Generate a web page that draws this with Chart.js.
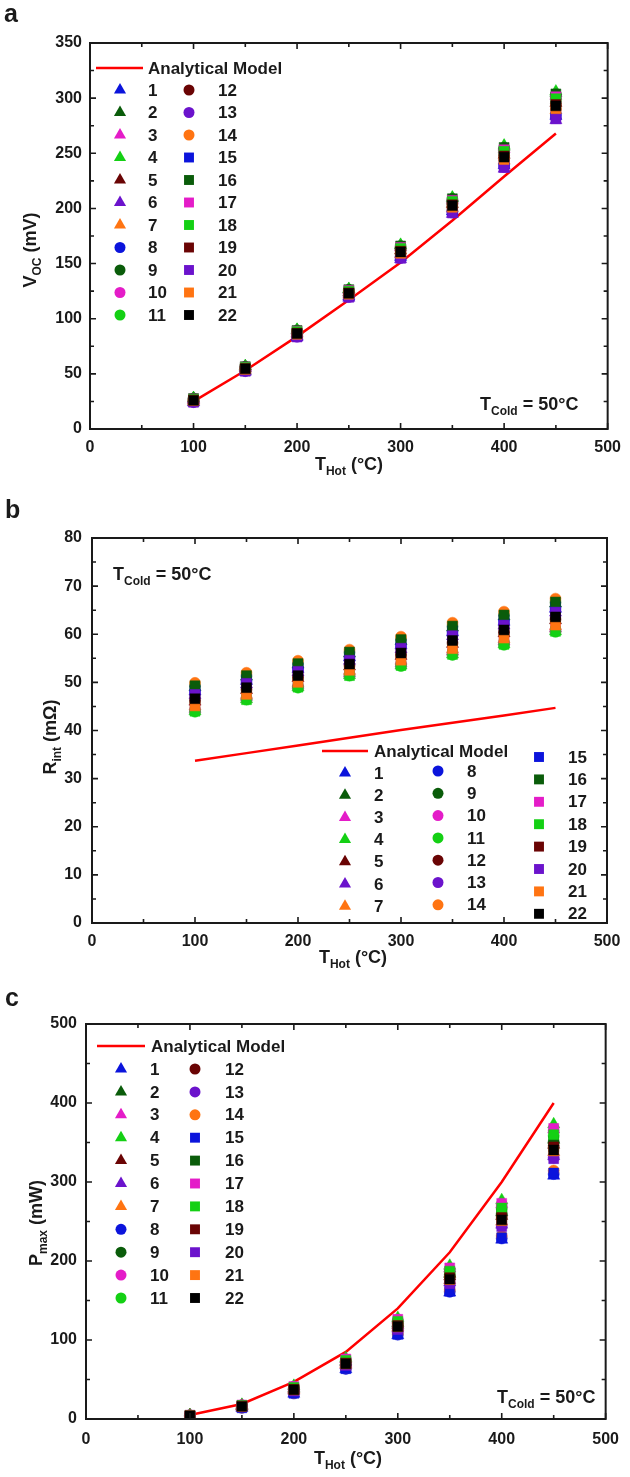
<!DOCTYPE html>
<html>
<head>
<meta charset="utf-8">
<script src="https://cdn.jsdelivr.net/npm/chart.js@4.4.0/dist/chart.umd.min.js"></script>
<style>
  body { margin: 0; background: #fff; }
  .wrap { position: relative; width: 630px; height: 1477px; }
  canvas { position: absolute; left: 0; }
</style>
</head>
<body>
<div class="wrap">
  <canvas id="chartA" width="630" height="480" style="top:0"></canvas>
  <canvas id="chartB" width="630" height="500" style="top:480px"></canvas>
  <canvas id="chartC" width="630" height="497" style="top:980px"></canvas>
</div>
<script>
// x values, T_hot in degC
const tHot = [100, 150, 200, 250, 300, 350, 400, 450];
const seriesNames = ['1','2','3','4','5','6','7','8','9','10','11','12','13','14','15','16','17','18','19','20','21','22'];
const seriesColors = [
    '#0b14dc','#0a5c0a','#e41cc8','#14d014','#6a0404','#6b13cc','#ff7412',
    '#0b14dc','#0a5c0a','#e41cc8','#14d014','#6a0404','#6b13cc','#ff7412',
    '#0b14dc','#0a5c0a','#e41cc8','#14d014','#6a0404','#6b13cc','#ff7412','#000000'
];
const seriesShapes = [
    'triangle','triangle','triangle','triangle','triangle','triangle','triangle',
    'circle','circle','circle','circle','circle','circle','circle',
    'rect','rect','rect','rect','rect','rect','rect','rect'
];

// panel a - open circuit voltage (mV)
const vocModel = [25, 53, 84, 117, 151, 189, 229, 268];
const vocPoints = [
    [24.6, 52.8, 84.1, 120.2, 156.0, 197.3, 239.2, 283.9],
    [27.8, 56.8, 89.7, 126.6, 166.4, 209.3, 256.0, 304.7],
    [27.4, 56.3, 89.0, 125.8, 165.1, 207.8, 253.9, 302.1],
    [28.0, 57.0, 90.0, 127.0, 167.0, 210.0, 257.0, 306.0],
    [26.4, 55.0, 87.2, 123.8, 161.8, 204.0, 248.6, 295.6],
    [24.0, 52.0, 83.0, 119.0, 154.0, 195.0, 236.0, 280.0],
    [25.4, 53.8, 85.5, 121.8, 158.6, 200.3, 243.4, 289.1],
    [24.7, 52.9, 84.3, 120.4, 156.3, 197.7, 239.8, 284.7],
    [27.6, 56.5, 89.3, 126.2, 165.7, 208.5, 254.9, 303.4],
    [27.2, 56.0, 88.6, 125.4, 164.4, 207.0, 252.8, 300.8],
    [26.9, 55.6, 88.0, 124.8, 163.4, 205.8, 251.1, 298.7],
    [26.3, 54.9, 87.1, 123.6, 161.5, 203.7, 248.2, 295.1],
    [24.3, 52.4, 83.6, 119.6, 155.0, 196.2, 237.7, 282.1],
    [25.5, 53.9, 85.7, 122.0, 158.9, 200.7, 244.0, 289.9],
    [24.8, 53.0, 84.4, 120.6, 156.6, 198.0, 240.2, 285.2],
    [27.7, 56.6, 89.4, 126.4, 166.0, 208.8, 255.3, 303.9],
    [27.3, 56.1, 88.7, 125.6, 164.7, 207.3, 253.2, 301.3],
    [27.0, 55.8, 88.3, 125.0, 163.8, 206.3, 251.8, 299.5],
    [26.2, 54.8, 86.9, 123.4, 161.2, 203.3, 247.6, 294.3],
    [24.2, 52.3, 83.4, 119.4, 154.7, 195.8, 237.1, 281.3],
    [25.6, 54.0, 85.8, 122.2, 159.2, 201.0, 244.4, 290.4],
    [26.0, 54.5, 86.5, 123.0, 160.5, 202.5, 246.5, 293.0]
];

// panel b - internal resistance (mOhm)
const rintModel = [33.7, 35.3, 36.9, 38.5, 40.1, 41.6, 43.1, 44.7];
const rintPoints = [
    [48.1, 50.3, 52.8, 55.2, 57.7, 60.4, 62.6, 65.3],
    [49.0, 51.2, 53.7, 56.0, 58.6, 61.4, 63.7, 66.4],
    [44.5, 47.0, 49.5, 51.9, 54.0, 56.4, 58.5, 61.2],
    [44.0, 46.5, 49.0, 51.5, 53.5, 55.8, 57.9, 60.6],
    [46.0, 48.4, 50.9, 53.3, 55.5, 58.0, 60.2, 62.9],
    [47.4, 49.6, 52.1, 54.5, 56.9, 59.6, 61.8, 64.5],
    [45.0, 47.4, 49.9, 52.4, 54.5, 56.9, 59.0, 61.7],
    [48.2, 50.4, 52.9, 55.3, 57.8, 60.5, 62.8, 65.5],
    [49.2, 51.3, 53.8, 56.2, 58.8, 61.6, 63.9, 66.6],
    [44.3, 46.7, 49.2, 51.7, 53.8, 56.1, 58.2, 60.9],
    [43.9, 46.4, 48.9, 51.4, 53.4, 55.7, 57.8, 60.5],
    [46.2, 48.5, 51.0, 53.5, 55.7, 58.2, 60.4, 63.1],
    [47.6, 49.9, 52.4, 54.7, 57.2, 59.9, 62.1, 64.8],
    [49.9, 52.0, 54.5, 56.8, 59.5, 62.4, 64.7, 67.4],
    [48.4, 50.6, 53.1, 55.5, 58.0, 60.7, 63.0, 65.7],
    [49.3, 51.4, 53.9, 56.3, 58.9, 61.7, 64.0, 66.7],
    [44.4, 46.8, 49.3, 51.8, 53.9, 56.2, 58.4, 61.1],
    [44.0, 46.4, 49.0, 51.4, 53.5, 55.8, 57.9, 60.6],
    [46.3, 48.6, 51.1, 53.6, 55.8, 58.4, 60.6, 63.3],
    [47.5, 49.8, 52.3, 54.6, 57.1, 59.7, 61.9, 64.6],
    [45.1, 47.5, 50.0, 52.5, 54.6, 57.0, 59.2, 61.9],
    [46.6, 48.9, 51.4, 53.8, 56.1, 58.7, 60.9, 63.6]
];

// panel c - max power (mW)
const pmaxModel = [5, 19, 47, 85, 140, 211, 300, 400];
const pmaxPoints = [
    [3.0, 14.0, 32.0, 63.0, 106.0, 160.0, 227.0, 308.0],
    [4.4, 16.8, 39.0, 72.8, 121.4, 183.8, 262.0, 353.5],
    [4.8, 17.6, 41.0, 75.6, 125.8, 190.6, 272.0, 366.5],
    [5.0, 18.0, 42.0, 77.0, 128.0, 194.0, 277.0, 373.0],
    [4.2, 16.4, 38.0, 71.4, 119.2, 180.4, 257.0, 347.0],
    [3.8, 15.5, 35.8, 68.3, 114.4, 172.9, 246.0, 332.7],
    [3.9, 15.8, 36.6, 69.4, 116.1, 175.6, 250.0, 337.9],
    [3.1, 14.1, 32.3, 63.4, 106.7, 161.0, 228.5, 310.0],
    [4.3, 16.6, 38.6, 72.2, 120.5, 182.4, 260.0, 350.9],
    [4.8, 17.5, 40.8, 75.3, 125.4, 189.9, 271.0, 365.2],
    [4.6, 17.1, 39.8, 73.9, 123.2, 186.5, 266.0, 358.7],
    [4.2, 16.3, 37.8, 71.1, 118.8, 179.7, 256.0, 345.7],
    [3.7, 15.4, 35.5, 67.9, 113.7, 171.9, 244.5, 330.8],
    [3.2, 14.4, 33.0, 64.4, 108.2, 163.4, 232.0, 314.5],
    [3.1, 14.2, 32.5, 63.7, 107.1, 161.7, 229.5, 311.3],
    [4.4, 16.7, 38.8, 72.5, 121.0, 183.1, 261.0, 352.2],
    [4.8, 17.7, 41.2, 75.9, 126.2, 191.3, 273.0, 367.8],
    [4.6, 17.2, 40.0, 74.2, 123.6, 187.2, 267.0, 360.0],
    [4.1, 16.2, 37.6, 70.8, 118.3, 179.0, 255.0, 344.4],
    [3.7, 15.3, 35.3, 67.6, 113.3, 171.2, 243.5, 329.5],
    [4.0, 15.9, 36.8, 69.7, 116.6, 176.3, 251.0, 339.2],
    [4.0, 16.0, 37.0, 70.0, 117.0, 177.0, 252.0, 340.5]
];

const FONT = '"Liberation Sans", Arial, sans-serif';
const INK = '#1a1a1a';

const panels = [
    {
        canvas: 'chartA', letter: 'a', letterPos: [4, 22],
        yMax: 350, yStep: 50, model: vocModel, points: vocPoints,
        area: { left: 90, right: 609, top: 43, bottom: 429 },
        yPad: 8, xPad: 9,
        yTitle: ['V', 'OC', ' (mV)'], yTitlePos: [30, 250],
        xTitlePos: [349, 470],
        note: [480, 410],
        legend: {
            line: [96, 143, 68], text: 148,
            cols: [
                { mx: 120, tx: 148, y0: 90, dy: 22.5, from: 0, to: 10 },
                { mx: 189, tx: 218, y0: 90, dy: 22.5, from: 11, to: 21 }
            ]
        }
    },
    {
        canvas: 'chartB', letter: 'b', letterPos: [5, 38],
        yMax: 80, yStep: 10, model: rintModel, points: rintPoints,
        area: { left: 92, right: 607, top: 58, bottom: 443 },
        yPad: 10, xPad: 9,
        yTitle: ['R', 'int', ' (m\u03a9)'], yTitlePos: [50, 257],
        xTitlePos: [353, 483],
        note: [113, 100],
        legend: {
            line: [322, 368, 271], text: 374,
            cols: [
                { mx: 345, tx: 374, y0: 293, dy: 22.2, from: 0, to: 6 },
                { mx: 438, tx: 467, y0: 291, dy: 22.3, from: 7, to: 13 },
                { mx: 539, tx: 568, y0: 277, dy: 22.4, from: 14, to: 21 }
            ]
        }
    },
    {
        canvas: 'chartC', letter: 'c', letterPos: [5, 26],
        yMax: 500, yStep: 100, model: pmaxModel, points: pmaxPoints,
        area: { left: 86, right: 615, top: 44, bottom: 439 },
        yPad: 9, xPad: 11,
        yTitle: ['P', 'max', ' (mW)'], yTitlePos: [36, 243],
        xTitlePos: [348, 484],
        note: [497, 423],
        legend: {
            line: [97, 145, 66], text: 151,
            cols: [
                { mx: 121, tx: 150, y0: 89, dy: 22.9, from: 0, to: 10 },
                { mx: 195, tx: 225, y0: 89, dy: 22.9, from: 11, to: 21 }
            ]
        }
    }
];

const markerSize = { triangle: 7, circle: 5.5, rect: 7 };

function drawMarker(ctx, shape, x, y, color) {
    const r = markerSize[shape];
    ctx.fillStyle = color;
    ctx.beginPath();
    if (shape === 'circle') {
        ctx.arc(x, y, r, 0, Math.PI * 2);
    } else if (shape === 'triangle') {
        ctx.moveTo(x, y - r);
        ctx.lineTo(x + 0.866 * r, y + 0.5 * r);
        ctx.lineTo(x - 0.866 * r, y + 0.5 * r);
        ctx.closePath();
    } else {
        const h = r * Math.SQRT1_2;
        ctx.rect(x - h, y - h, 2 * h, 2 * h);
    }
    ctx.fill();
}

// text with subscript: [main, sub, rest]
function richText(ctx, parts, x, y, big, small, center) {
    const segs = [[parts[0], big, 0], [parts[1], small, 5], [parts[2], big, 0]];
    let w = 0;
    segs.forEach(s => { ctx.font = 'bold ' + s[1] + 'px ' + FONT; w += ctx.measureText(s[0]).width; });
    let cx = center ? x - w / 2 : x;
    ctx.textAlign = 'left';
    ctx.textBaseline = 'alphabetic';
    segs.forEach(s => {
        ctx.font = 'bold ' + s[1] + 'px ' + FONT;
        ctx.fillText(s[0], cx, y + s[2]);
        cx += ctx.measureText(s[0]).width;
    });
}

function decorPlugin(p) {
    return {
        id: 'decor',
        afterDraw(chart) {
            const ctx = chart.ctx;
            const a = chart.chartArea;
            const xs = chart.scales.x, ys = chart.scales.y;
            ctx.save();
            ctx.strokeStyle = INK;
            ctx.fillStyle = INK;
            // frame
            ctx.lineWidth = 2;
            ctx.strokeRect(a.left, a.top, a.right - a.left, a.bottom - a.top);
            // inward ticks on all four sides
            ctx.lineWidth = 1.6;
            ctx.beginPath();
            for (let v = 0; v <= 500; v += 50) {
                const px = xs.getPixelForValue(v);
                const len = v % 100 === 0 ? 6 : 4;
                ctx.moveTo(px, a.bottom); ctx.lineTo(px, a.bottom - len);
                ctx.moveTo(px, a.top); ctx.lineTo(px, a.top + len);
            }
            for (let v = 0; v <= p.yMax; v += p.yStep / 2) {
                const py = ys.getPixelForValue(v);
                const len = (v / p.yStep) % 1 === 0 ? 6 : 4;
                ctx.moveTo(a.left, py); ctx.lineTo(a.left + len, py);
                ctx.moveTo(a.right, py); ctx.lineTo(a.right - len, py);
            }
            ctx.stroke();

            // panel letter
            ctx.font = 'bold 25px ' + FONT;
            ctx.textAlign = 'left';
            ctx.textBaseline = 'alphabetic';
            ctx.fillText(p.letter, p.letterPos[0], p.letterPos[1]);

            // axis titles
            richText(ctx, ['T', 'Hot', ' (\u00b0C)'], p.xTitlePos[0], p.xTitlePos[1], 18, 12, true);
            ctx.save();
            ctx.translate(p.yTitlePos[0], p.yTitlePos[1]);
            ctx.rotate(-Math.PI / 2);
            richText(ctx, p.yTitle, 0, 6, 18, 12, true);
            ctx.restore();

            // T cold note
            richText(ctx, ['T', 'Cold', ' = 50\u00b0C'], p.note[0], p.note[1], 18, 12, false);

            // legend
            const lg = p.legend;
            ctx.strokeStyle = '#ff0000';
            ctx.lineWidth = 2.5;
            ctx.beginPath();
            ctx.moveTo(lg.line[0], lg.line[2]);
            ctx.lineTo(lg.line[1], lg.line[2]);
            ctx.stroke();
            ctx.fillStyle = INK;
            ctx.font = 'bold 17px ' + FONT;
            ctx.textBaseline = 'middle';
            ctx.fillText('Analytical Model', lg.text, lg.line[2] + 1);
            lg.cols.forEach(col => {
                for (let i = col.from; i <= col.to; i++) {
                    const y = col.y0 + (i - col.from) * col.dy;
                    drawMarker(ctx, seriesShapes[i], col.mx, y, seriesColors[i]);
                    ctx.fillStyle = INK;
                    ctx.font = 'bold 17px ' + FONT;
                    ctx.fillText(seriesNames[i], col.tx, y + 1);
                }
            });
            ctx.restore();
        }
    };
}

function buildChart(p) {
    const canvas = document.getElementById(p.canvas);
    const H = canvas.height;
    const datasets = [{
        type: 'line',
        label: 'Analytical Model',
        data: tHot.map((t, i) => ({ x: t, y: p.model[i] })),
        borderColor: '#ff0000',
        borderWidth: 2.5,
        pointRadius: 0,
        tension: 0,
        fill: false,
        order: 100
    }];
    p.points.forEach((vals, s) => {
        datasets.push({
            label: seriesNames[s],
            data: tHot.map((t, i) => ({ x: t, y: vals[i] })),
            pointStyle: seriesShapes[s],
            pointRadius: markerSize[seriesShapes[s]],
            backgroundColor: seriesColors[s],
            borderColor: seriesColors[s],
            borderWidth: 0.5,
            order: 50 - s
        });
    });
    const tickFont = { family: FONT, size: 16, weight: 'bold' };
    return new Chart(canvas, {
        type: 'scatter',
        data: { datasets: datasets },
        options: {
            responsive: false,
            animation: false,
            devicePixelRatio: 1,
            layout: { padding: { left: 0, right: 630 - p.area.right, top: p.area.top, bottom: 0 } },
            plugins: { legend: { display: false }, tooltip: { enabled: false } },
            scales: {
                x: {
                    type: 'linear', min: 0, max: 500,
                    grid: { display: false, drawTicks: false },
                    border: { display: false },
                    ticks: { stepSize: 100, color: INK, font: tickFont, padding: p.xPad, maxRotation: 0 },
                    afterFit(scale) { scale.height = H - p.area.bottom; }
                },
                y: {
                    type: 'linear', min: 0, max: p.yMax,
                    grid: { display: false, drawTicks: false },
                    border: { display: false },
                    ticks: { stepSize: p.yStep, color: INK, font: tickFont, padding: p.yPad },
                    afterFit(scale) { scale.width = p.area.left; }
                }
            }
        },
        plugins: [decorPlugin(p)]
    });
}

panels.forEach(buildChart);
</script>
</body>
</html>
